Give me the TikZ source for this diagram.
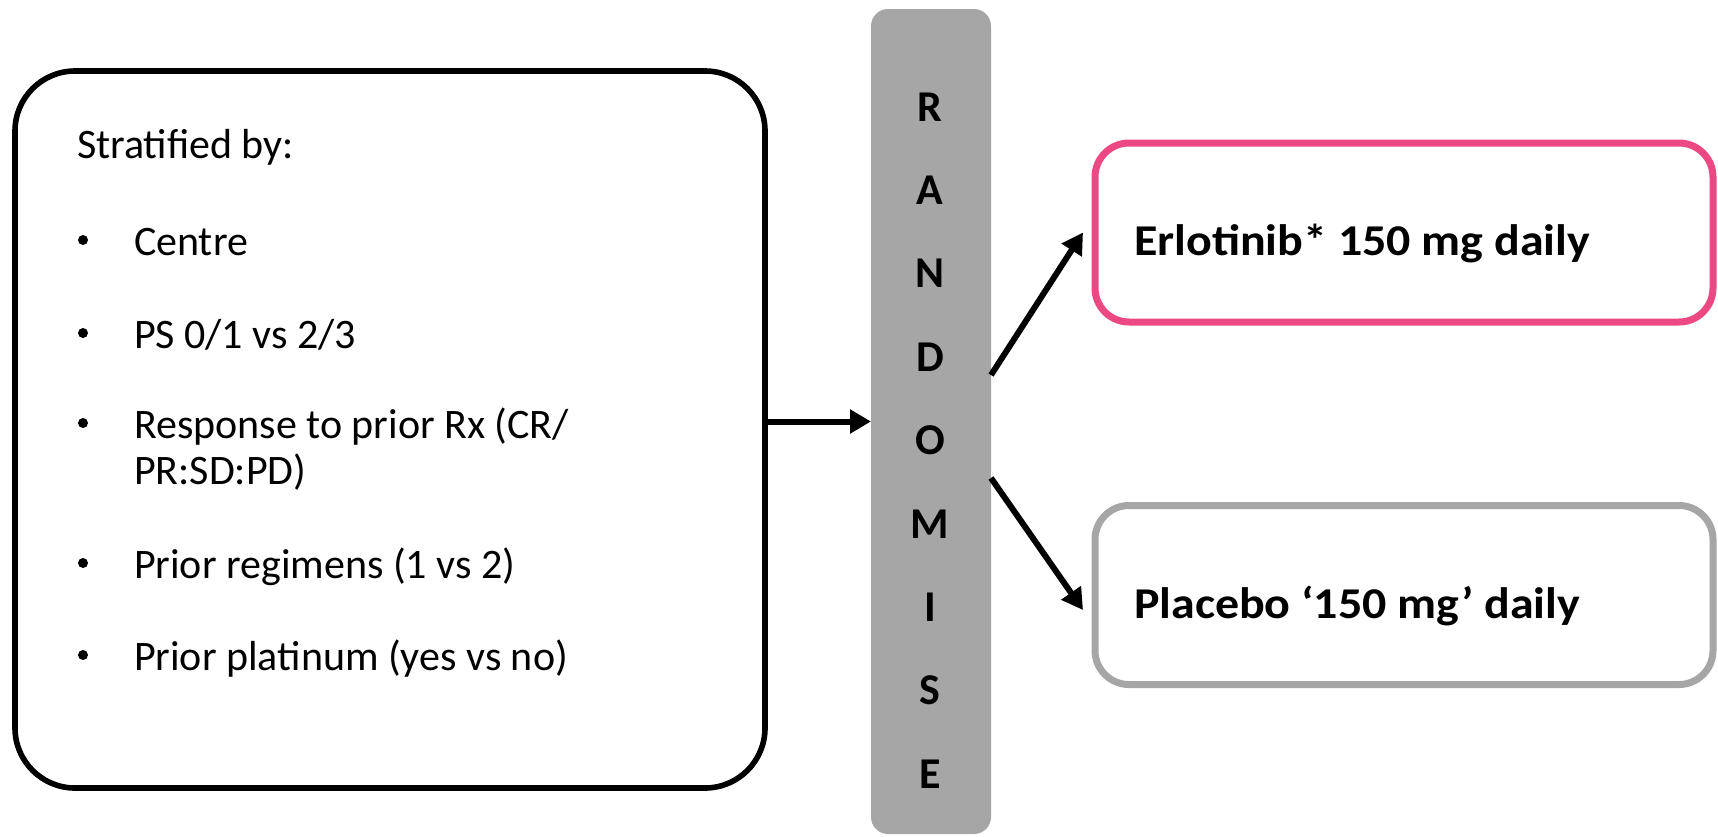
\documentclass[tikz,border=0pt]{standalone}
\usepackage{fontspec}
\setmainfont{Carlito}
\usetikzlibrary{arrows.meta}
\definecolor{erlopink}{RGB}{236,72,132}
\definecolor{bargrey}{RGB}{166,166,166}
% the arm labels are a little wider than Carlito
\newcommand{\armwide}[1]{\scalebox{1.09}[1]{#1}}

\begin{document}
\begin{tikzpicture}[x=0.5pt,y=-0.5pt,
    every node/.style={inner sep=0pt,outer sep=0pt},
    stratbox/.style={draw,line width=2.8pt,rounded corners=30pt,minimum width=375pt,minimum height=358.5pt},
    randbar/.style={fill=bargrey,rounded corners=8.5pt,minimum width=60pt,minimum height=412.5pt},
    armbox/.style={draw,fill=white,line width=3.5pt,rounded corners=17pt,minimum width=309pt,minimum height=89.5pt},
    listtext/.style={anchor=base west,font=\fontsize{21pt}{25pt}\selectfont},
    bulletdot/.style={circle,fill,minimum size=5pt},
    randletter/.style={anchor=base,font=\fontsize{22pt}{26pt}\selectfont\bfseries},
    armtext/.style={anchor=base west,font=\fontsize{22pt}{26pt}\selectfont\bfseries},
    flow/.style={line width=3pt,-{Triangle[length=10.5pt,width=11.5pt]}}]
    \useasboundingbox (0,0) rectangle (1718,836);
    %% stratification box
    \node[stratbox] (strat) at (390,429.5) {};
    \node[listtext] (title) at (77,158) {Stratified by:};
    \node[bulletdot] (b1) at (83,240) {};
    \node[listtext] (centre) at (134,255) {Centre};
    \node[bulletdot] (b2) at (83,333) {};
    \node[listtext] (ps) at (134,348) {PS 0/1 vs 2/3};
    \node[bulletdot] (b3) at (83,423) {};
    \node[listtext] (resp) at (134,438) {Response to prior Rx (CR/};
    \node[listtext] (respb) at (134,484) {PR:SD:PD)};
    \node[bulletdot] (b4) at (83,563) {};
    \node[listtext] (regimens) at (134,578) {Prior regimens (1 vs 2)};
    \node[bulletdot] (b5) at (83,655) {};
    \node[listtext] (platinum) at (134,670) {Prior platinum (yes vs no)};
    %% randomise bar
    \node[randbar] (bar) at (931,421.5) {};
    \foreach \l [count=\i] in {R,A,N,D,O,M,I,S,E}
        \node[randletter] (rand\i) at (930,121+83.4*\i-83.4) {\l};
    %% arms
    \node[armbox,draw=erlopink] (erlo) at (1404,232.5) {};
    \node[armtext] (erlotxt) at (1134,255) {\armwide{Erlotinib* 150 mg daily}};
    \node[armbox,draw=bargrey] (plac) at (1404,595) {};
    \node[armtext] (plactxt) at (1134,618) {\armwide{Placebo ‘150 mg’ daily}};
    %% arrows
    \draw[flow] (bar.west -| strat.east) -- (bar.west);
    \draw[flow] ([yshift=23.25pt]bar.east) -- ([xshift=-6pt]erlo.west);
    \draw[flow] ([yshift=-28.25pt]bar.east) -- ([xshift=-6pt,yshift=-7.5pt]plac.west);
\end{tikzpicture}
\end{document}
